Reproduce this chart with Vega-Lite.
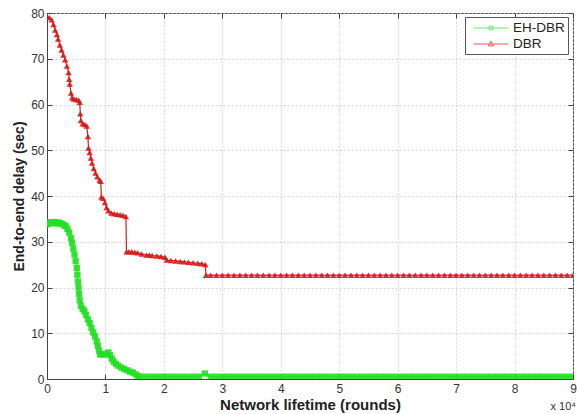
{
"$schema": "https://vega.github.io/schema/vega-lite/v6.json",
"width": 526, "height": 366,
"autosize": "none",
"padding": {"left": 47, "top": 13, "right": 4, "bottom": 35},
"background": "white",
"data": {"values": [
{"s":"DBR","x":0,"y":79.2},{"s":"DBR","x":0.04,"y":79},{"s":"DBR","x":0.08,"y":78.5},{"s":"DBR","x":0.11,"y":77.5},{"s":"DBR","x":0.14,"y":76.3},{"s":"DBR","x":0.17,"y":75.3},{"s":"DBR","x":0.19,"y":74.3},{"s":"DBR","x":0.22,"y":73},{"s":"DBR","x":0.25,"y":71.9},{"s":"DBR","x":0.28,"y":70.8},{"s":"DBR","x":0.31,"y":69.8},{"s":"DBR","x":0.34,"y":68.4},{"s":"DBR","x":0.37,"y":67},{"s":"DBR","x":0.38,"y":65.5},{"s":"DBR","x":0.39,"y":64.5},{"s":"DBR","x":0.41,"y":62.5},{"s":"DBR","x":0.43,"y":61.5},{"s":"DBR","x":0.46,"y":61.2},{"s":"DBR","x":0.5,"y":61.1},{"s":"DBR","x":0.54,"y":61},{"s":"DBR","x":0.56,"y":60.5},{"s":"DBR","x":0.57,"y":58},{"s":"DBR","x":0.58,"y":56.5},{"s":"DBR","x":0.61,"y":55.8},{"s":"DBR","x":0.65,"y":55.6},{"s":"DBR","x":0.68,"y":55.3},{"s":"DBR","x":0.7,"y":53},{"s":"DBR","x":0.71,"y":50.5},{"s":"DBR","x":0.73,"y":49.5},{"s":"DBR","x":0.75,"y":48.3},{"s":"DBR","x":0.77,"y":47.2},{"s":"DBR","x":0.8,"y":46},{"s":"DBR","x":0.83,"y":45},{"s":"DBR","x":0.86,"y":44.2},{"s":"DBR","x":0.9,"y":43.5},{"s":"DBR","x":0.92,"y":43.2},{"s":"DBR","x":0.93,"y":39.8},{"s":"DBR","x":0.96,"y":39.5},{"s":"DBR","x":0.99,"y":38.6},{"s":"DBR","x":1.02,"y":37.5},{"s":"DBR","x":1.05,"y":36.8},{"s":"DBR","x":1.1,"y":36.3},{"s":"DBR","x":1.15,"y":36.1},{"s":"DBR","x":1.2,"y":36},{"s":"DBR","x":1.25,"y":35.9},{"s":"DBR","x":1.3,"y":35.8},{"s":"DBR","x":1.35,"y":35.5},{"s":"DBR","x":1.36,"y":27.8},{"s":"DBR","x":1.4,"y":27.8},{"s":"DBR","x":1.45,"y":27.8},{"s":"DBR","x":1.5,"y":27.7},{"s":"DBR","x":1.55,"y":27.6},{"s":"DBR","x":1.62,"y":27.3},{"s":"DBR","x":1.7,"y":27.1},{"s":"DBR","x":1.75,"y":27.1},{"s":"DBR","x":1.8,"y":27},{"s":"DBR","x":1.88,"y":26.9},{"s":"DBR","x":1.95,"y":26.8},{"s":"DBR","x":2.02,"y":26.6},{"s":"DBR","x":2.05,"y":26},{"s":"DBR","x":2.12,"y":25.9},{"s":"DBR","x":2.2,"y":25.8},{"s":"DBR","x":2.28,"y":25.7},{"s":"DBR","x":2.35,"y":25.6},{"s":"DBR","x":2.42,"y":25.5},{"s":"DBR","x":2.5,"y":25.4},{"s":"DBR","x":2.58,"y":25.3},{"s":"DBR","x":2.65,"y":25.2},{"s":"DBR","x":2.71,"y":25},{"s":"DBR","x":2.72,"y":22.7},
{"s":"DBR","x":2.8,"y":22.7},{"s":"DBR","x":2.9,"y":22.7},{"s":"DBR","x":3.0,"y":22.7},{"s":"DBR","x":3.1,"y":22.7},{"s":"DBR","x":3.2,"y":22.7},{"s":"DBR","x":3.3,"y":22.7},{"s":"DBR","x":3.4,"y":22.7},{"s":"DBR","x":3.5,"y":22.7},{"s":"DBR","x":3.6,"y":22.7},{"s":"DBR","x":3.7,"y":22.7},{"s":"DBR","x":3.8,"y":22.7},{"s":"DBR","x":3.9,"y":22.7},{"s":"DBR","x":4.0,"y":22.7},{"s":"DBR","x":4.1,"y":22.7},{"s":"DBR","x":4.2,"y":22.7},{"s":"DBR","x":4.3,"y":22.7},{"s":"DBR","x":4.4,"y":22.7},{"s":"DBR","x":4.5,"y":22.7},{"s":"DBR","x":4.6,"y":22.7},{"s":"DBR","x":4.7,"y":22.7},{"s":"DBR","x":4.8,"y":22.7},{"s":"DBR","x":4.9,"y":22.7},{"s":"DBR","x":5.0,"y":22.7},{"s":"DBR","x":5.1,"y":22.7},{"s":"DBR","x":5.2,"y":22.7},{"s":"DBR","x":5.3,"y":22.7},{"s":"DBR","x":5.4,"y":22.7},{"s":"DBR","x":5.5,"y":22.7},{"s":"DBR","x":5.6,"y":22.7},{"s":"DBR","x":5.7,"y":22.7},{"s":"DBR","x":5.8,"y":22.7},{"s":"DBR","x":5.9,"y":22.7},{"s":"DBR","x":6.0,"y":22.7},{"s":"DBR","x":6.1,"y":22.7},{"s":"DBR","x":6.2,"y":22.7},{"s":"DBR","x":6.3,"y":22.7},{"s":"DBR","x":6.4,"y":22.7},{"s":"DBR","x":6.5,"y":22.7},{"s":"DBR","x":6.6,"y":22.7},{"s":"DBR","x":6.7,"y":22.7},{"s":"DBR","x":6.8,"y":22.7},{"s":"DBR","x":6.9,"y":22.7},{"s":"DBR","x":7.0,"y":22.7},{"s":"DBR","x":7.1,"y":22.7},{"s":"DBR","x":7.2,"y":22.7},{"s":"DBR","x":7.3,"y":22.7},{"s":"DBR","x":7.4,"y":22.7},{"s":"DBR","x":7.5,"y":22.7},{"s":"DBR","x":7.6,"y":22.7},{"s":"DBR","x":7.7,"y":22.7},{"s":"DBR","x":7.8,"y":22.7},{"s":"DBR","x":7.9,"y":22.7},{"s":"DBR","x":8.0,"y":22.7},{"s":"DBR","x":8.1,"y":22.7},{"s":"DBR","x":8.2,"y":22.7},{"s":"DBR","x":8.3,"y":22.7},{"s":"DBR","x":8.4,"y":22.7},{"s":"DBR","x":8.5,"y":22.7},{"s":"DBR","x":8.6,"y":22.7},{"s":"DBR","x":8.7,"y":22.7},{"s":"DBR","x":8.8,"y":22.7},{"s":"DBR","x":8.9,"y":22.7},{"s":"DBR","x":9.0,"y":22.7},
{"s":"EH-DBR","x":0,"y":33.8},{"s":"EH-DBR","x":0.02,"y":34.2},{"s":"EH-DBR","x":0.05,"y":34},{"s":"EH-DBR","x":0.08,"y":34.3},{"s":"EH-DBR","x":0.11,"y":34.1},{"s":"EH-DBR","x":0.14,"y":34.3},{"s":"EH-DBR","x":0.17,"y":34},{"s":"EH-DBR","x":0.2,"y":34.2},{"s":"EH-DBR","x":0.23,"y":34},{"s":"EH-DBR","x":0.26,"y":33.9},{"s":"EH-DBR","x":0.29,"y":33.6},{"s":"EH-DBR","x":0.32,"y":33.4},{"s":"EH-DBR","x":0.35,"y":32.8},{"s":"EH-DBR","x":0.38,"y":32},{"s":"EH-DBR","x":0.41,"y":30.8},{"s":"EH-DBR","x":0.43,"y":29.8},{"s":"EH-DBR","x":0.45,"y":28.5},{"s":"EH-DBR","x":0.47,"y":27.2},{"s":"EH-DBR","x":0.49,"y":25.8},{"s":"EH-DBR","x":0.51,"y":24.3},{"s":"EH-DBR","x":0.52,"y":22.8},{"s":"EH-DBR","x":0.53,"y":21.3},{"s":"EH-DBR","x":0.54,"y":20},{"s":"EH-DBR","x":0.55,"y":18.6},{"s":"EH-DBR","x":0.56,"y":17.2},{"s":"EH-DBR","x":0.58,"y":16},{"s":"EH-DBR","x":0.61,"y":15.3},{"s":"EH-DBR","x":0.64,"y":14.8},{"s":"EH-DBR","x":0.67,"y":14},{"s":"EH-DBR","x":0.7,"y":13},{"s":"EH-DBR","x":0.73,"y":12.2},{"s":"EH-DBR","x":0.76,"y":11.2},{"s":"EH-DBR","x":0.79,"y":10.2},{"s":"EH-DBR","x":0.82,"y":9.3},{"s":"EH-DBR","x":0.85,"y":8.2},{"s":"EH-DBR","x":0.87,"y":7.2},{"s":"EH-DBR","x":0.89,"y":6.2},{"s":"EH-DBR","x":0.91,"y":5.4},{"s":"EH-DBR","x":0.95,"y":5.3},{"s":"EH-DBR","x":1.0,"y":5.5},{"s":"EH-DBR","x":1.05,"y":5.8},{"s":"EH-DBR","x":1.08,"y":5.2},{"s":"EH-DBR","x":1.11,"y":4.4},{"s":"EH-DBR","x":1.14,"y":3.8},{"s":"EH-DBR","x":1.18,"y":3.3},{"s":"EH-DBR","x":1.22,"y":2.9},{"s":"EH-DBR","x":1.27,"y":2.5},{"s":"EH-DBR","x":1.32,"y":2.2},{"s":"EH-DBR","x":1.37,"y":1.9},{"s":"EH-DBR","x":1.42,"y":1.6},{"s":"EH-DBR","x":1.47,"y":1.4},{"s":"EH-DBR","x":1.52,"y":1.0},{"s":"EH-DBR","x":1.56,"y":0.6},{"s":"EH-DBR","x":1.6,"y":0.5},
{"s":"EH-DBR","x":1.7,"y":0.5},{"s":"EH-DBR","x":1.8,"y":0.5},{"s":"EH-DBR","x":1.9,"y":0.5},{"s":"EH-DBR","x":2.0,"y":0.5},{"s":"EH-DBR","x":2.1,"y":0.5},{"s":"EH-DBR","x":2.2,"y":0.5},{"s":"EH-DBR","x":2.3,"y":0.5},{"s":"EH-DBR","x":2.4,"y":0.5},{"s":"EH-DBR","x":2.5,"y":0.5},{"s":"EH-DBR","x":2.6,"y":0.5},{"s":"EH-DBR","x":2.7,"y":1.2},{"s":"EH-DBR","x":2.8,"y":0.5},{"s":"EH-DBR","x":2.9,"y":0.5},{"s":"EH-DBR","x":3.0,"y":0.5},{"s":"EH-DBR","x":3.1,"y":0.5},{"s":"EH-DBR","x":3.2,"y":0.5},{"s":"EH-DBR","x":3.3,"y":0.5},{"s":"EH-DBR","x":3.4,"y":0.5},{"s":"EH-DBR","x":3.5,"y":0.5},{"s":"EH-DBR","x":3.6,"y":0.5},{"s":"EH-DBR","x":3.7,"y":0.5},{"s":"EH-DBR","x":3.8,"y":0.5},{"s":"EH-DBR","x":3.9,"y":0.5},{"s":"EH-DBR","x":4.0,"y":0.5},{"s":"EH-DBR","x":4.1,"y":0.5},{"s":"EH-DBR","x":4.2,"y":0.5},{"s":"EH-DBR","x":4.3,"y":0.5},{"s":"EH-DBR","x":4.4,"y":0.5},{"s":"EH-DBR","x":4.5,"y":0.5},{"s":"EH-DBR","x":4.6,"y":0.5},{"s":"EH-DBR","x":4.7,"y":0.5},{"s":"EH-DBR","x":4.8,"y":0.5},{"s":"EH-DBR","x":4.9,"y":0.5},{"s":"EH-DBR","x":5.0,"y":0.5},{"s":"EH-DBR","x":5.1,"y":0.5},{"s":"EH-DBR","x":5.2,"y":0.5},{"s":"EH-DBR","x":5.3,"y":0.5},{"s":"EH-DBR","x":5.4,"y":0.5},{"s":"EH-DBR","x":5.5,"y":0.5},{"s":"EH-DBR","x":5.6,"y":0.5},{"s":"EH-DBR","x":5.7,"y":0.5},{"s":"EH-DBR","x":5.8,"y":0.5},{"s":"EH-DBR","x":5.9,"y":0.5},{"s":"EH-DBR","x":6.0,"y":0.5},{"s":"EH-DBR","x":6.1,"y":0.5},{"s":"EH-DBR","x":6.2,"y":0.5},{"s":"EH-DBR","x":6.3,"y":0.5},{"s":"EH-DBR","x":6.4,"y":0.5},{"s":"EH-DBR","x":6.5,"y":0.5},{"s":"EH-DBR","x":6.6,"y":0.5},{"s":"EH-DBR","x":6.7,"y":0.5},{"s":"EH-DBR","x":6.8,"y":0.5},{"s":"EH-DBR","x":6.9,"y":0.5},{"s":"EH-DBR","x":7.0,"y":0.5},{"s":"EH-DBR","x":7.1,"y":0.5},{"s":"EH-DBR","x":7.2,"y":0.5},{"s":"EH-DBR","x":7.3,"y":0.5},{"s":"EH-DBR","x":7.4,"y":0.5},{"s":"EH-DBR","x":7.5,"y":0.5},{"s":"EH-DBR","x":7.6,"y":0.5},{"s":"EH-DBR","x":7.7,"y":0.5},{"s":"EH-DBR","x":7.8,"y":0.5},{"s":"EH-DBR","x":7.9,"y":0.5},{"s":"EH-DBR","x":8.0,"y":0.5},{"s":"EH-DBR","x":8.1,"y":0.5},{"s":"EH-DBR","x":8.2,"y":0.5},{"s":"EH-DBR","x":8.3,"y":0.5},{"s":"EH-DBR","x":8.4,"y":0.5},{"s":"EH-DBR","x":8.5,"y":0.5},{"s":"EH-DBR","x":8.6,"y":0.5},{"s":"EH-DBR","x":8.7,"y":0.5},{"s":"EH-DBR","x":8.8,"y":0.5},{"s":"EH-DBR","x":8.9,"y":0.5},{"s":"EH-DBR","x":9.0,"y":0.5}
]},
"layer": [
{
"mark": {"type": "line", "strokeWidth": 1.2, "clip": true},
"encoding": {
"x": {"field": "x", "type": "quantitative", "scale": {"domain": [0, 9], "nice": false},
"axis": {"values": [0,1,2,3,4,5,6,7,8,9], "title": "Network lifetime (rounds)", "titleFontSize": 15, "titleFontWeight": "bold", "titlePadding": 3, "labelPadding": 9}},
"y": {"field": "y", "type": "quantitative", "scale": {"domain": [0, 80], "nice": false},
"axis": {"values": [0,10,20,30,40,50,60,70,80], "title": "End-to-end delay (sec)", "titleFontSize": 14, "titleFontWeight": "bold", "titlePadding": 4, "labelPadding": 8}},
"color": {"field": "s", "type": "nominal", "scale": {"domain": ["EH-DBR", "DBR"], "range": ["#22e022", "#d81818"]},
"legend": {"title": null, "orient": "none", "legendX": 418, "legendY": 4, "symbolType": "M-2.33,0H2.33", "symbolSize": 225, "symbolOffset": 15, "symbolStrokeWidth": 1, "symbolOpacity": 0.7, "labelFontSize": 13.5, "labelFont": "Liberation Sans", "labelColor": "#222", "padding": 3, "rowPadding": 1, "labelOffset": 14, "strokeColor": "#555", "fillColor": "white",
"encode": {"symbols": {"update": {"shape": {"signal": "datum.value === 'DBR' ? 'M-2.33,0H2.33M0,-0.4L0.35,0.25H-0.35Z' : 'M-2.33,0H2.33M-0.25,-0.25H0.25V0.25H-0.25Z'"}}}}}}
}
},
{
"transform": [{"filter": "datum.s === 'EH-DBR'"}],
"mark": {"type": "point", "filled": true, "size": 40, "opacity": 0.9, "shape": "square", "color": "#22e022", "clip": true},
"encoding": {
"x": {"field": "x", "type": "quantitative", "axis": null},
"y": {"field": "y", "type": "quantitative", "axis": null}
}
},
{
"transform": [{"filter": "datum.s === 'DBR'"}],
"mark": {"type": "point", "filled": true, "size": 40, "opacity": 0.9, "shape": "triangle-up", "color": "#d81818", "clip": true},
"encoding": {
"x": {"field": "x", "type": "quantitative", "axis": null},
"y": {"field": "y", "type": "quantitative", "axis": null}
}
},
{
"data": {"values": [{"x": 9, "y": 0, "t": "x 10⁴"}]},
"mark": {"type": "text", "align": "right", "baseline": "alphabetic", "dx": 3, "dy": 31, "fontSize": 11, "font": "Liberation Sans", "color": "#333"},
"encoding": {
"x": {"field": "x", "type": "quantitative", "axis": {"orient": "top", "labels": false, "grid": false, "domain": false, "title": null, "tickSize": -5, "values": [0,1,2,3,4,5,6,7,8,9]}},
"y": {"field": "y", "type": "quantitative", "axis": {"orient": "right", "labels": false, "grid": false, "domain": false, "title": null, "tickSize": -5, "values": [0,10,20,30,40,50,60,70,80]}},
"text": {"field": "t"}
}
}
],
"resolve": {"axis": {"x": "independent", "y": "independent"}},
"config": {
"font": "Liberation Sans",
"view": {"stroke": "#444", "strokeWidth": 1},
"axis": {"labelFont": "Liberation Sans", "labelFontSize": 12, "labelColor": "#333", "titleFont": "Liberation Sans", "titleColor": "#222", "domainColor": "#444", "tickColor": "#444", "tickSize": -5, "gridColor": "#c8c8c8", "gridDash": [2, 2], "gridOpacity": 0.8, "labelFlush": false}
}
}
